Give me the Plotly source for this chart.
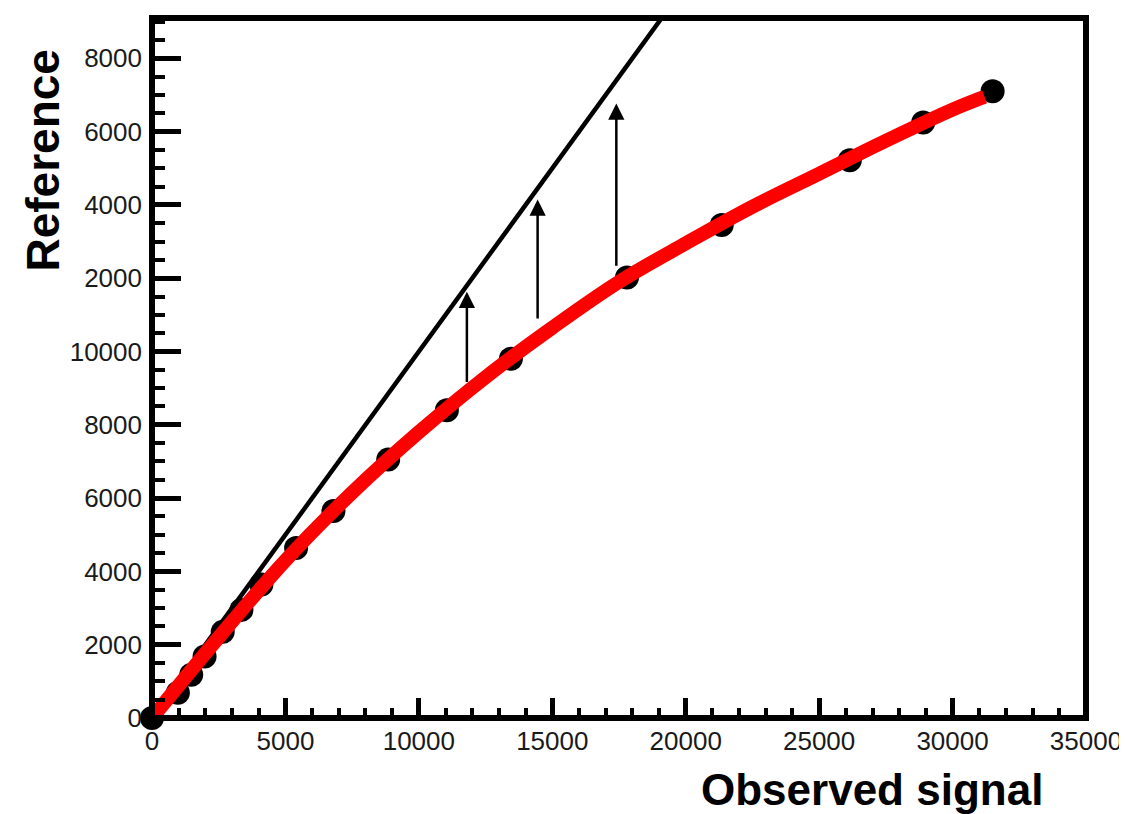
import plotly.graph_objects as go

# ---- data ----
obs_x = [0, 970, 1470, 1970, 2650, 3350, 4100, 5400, 6800, 8850, 11050, 13450,
         17800, 21350, 26150, 28900, 31500]
ref_y = [0, 690, 1180, 1680, 2350, 2950, 3640, 4640, 5650, 7050, 8400, 9800,
         12020, 13450, 15220, 16250, 17100]

fit_x = [0, 2500, 5000, 7500, 10000, 12500, 15000, 17500, 20000, 22500, 25000,
         27500, 30000, 31200]
fit_y = [0, 2200, 4300, 6150, 7800, 9300, 10650, 11900, 12950, 13950, 14850,
         15750, 16600, 16950]

ident_x = [0, 20000]
ident_y = [0, 20000]

arrow_x = [11800, 14450, 17400]
arrow_base = [9130, 10860, 12300]
arrow_tip = [11630, 14150, 16770]

x_tickvals = [0, 5000, 10000, 15000, 20000, 25000, 30000, 35000]
x_ticktext = ["0", "5000", "10000", "15000", "20000", "25000", "30000", "35000"]
y_tickvals = [0, 2000, 4000, 6000, 8000, 10000, 12000, 14000, 16000, 18000]
y_ticktext = ["0", "2000", "4000", "6000", "8000", "10000", "2000", "4000", "6000", "8000"]

x_title = "Observed signal"
y_title = "Reference"

FONT = "Liberation Sans, Arial, Helvetica, sans-serif"

fig = go.Figure()

fig.add_trace(go.Scatter(x=ident_x, y=ident_y, mode="lines",
                         line=dict(color="black", width=4.5), showlegend=False,
                         hoverinfo="skip"))
fig.add_trace(go.Scatter(x=obs_x, y=ref_y, mode="markers",
                         marker=dict(color="black", size=24), cliponaxis=False,
                         showlegend=False))
fig.add_trace(go.Scatter(x=fit_x, y=fit_y, mode="lines", line_shape="spline",
                         line=dict(color="#ff0000", width=14), showlegend=False))

annotations = []
for ax_, y0, y1 in zip(arrow_x, arrow_base, arrow_tip):
    annotations.append(dict(x=ax_, y=y1, ax=ax_, ay=y0, xref="x", yref="y",
                            axref="x", ayref="y", showarrow=True, arrowhead=2,
                            arrowsize=1.3, arrowwidth=2.5, arrowcolor="black",
                            text=""))

annotations.append(dict(text=x_title, xref="paper", yref="paper", x=0.771, y=-0.102,
                        xanchor="center", yanchor="middle", showarrow=False,
                        font=dict(family=FONT, size=44, color="black", weight="bold")))
annotations.append(dict(text=y_title, xref="paper", yref="paper", x=-0.117, y=0.796,
                        xanchor="center", yanchor="middle", showarrow=False, textangle=-90,
                        font=dict(family=FONT, size=46, color="black", weight="bold")))

fig.update_layout(
    width=1127, height=814,
    margin=dict(l=144, r=49, t=10, b=104, autoexpand=False),
    paper_bgcolor="white", plot_bgcolor="white",
    annotations=annotations,
    shapes=[dict(type="rect", xref="paper", yref="paper", x0=0, y0=0, x1=1, y1=1,
                 line=dict(color="black", width=6), layer="above")],
)

fig.update_xaxes(range=[0, 35000], showgrid=False, zeroline=False, showline=False,
                 automargin=False,
                 ticks="inside", ticklen=20, tickwidth=5, tickcolor="black",
                 tickvals=x_tickvals, ticktext=x_ticktext, ticklabelstandoff=5,
                 tickfont=dict(family=FONT, size=26, color="#1a1a1a"),
                 minor=dict(ticks="inside", ticklen=10, tickwidth=4, dtick=1000,
                            tickcolor="black", showgrid=False))
fig.update_yaxes(range=[0, 19100], showgrid=False, zeroline=False, showline=False,
                 automargin=False,
                 ticks="inside", ticklen=29, tickwidth=5, tickcolor="black",
                 tickvals=y_tickvals, ticktext=y_ticktext, ticklabelstandoff=9,
                 tickfont=dict(family=FONT, size=26, color="#1a1a1a"),
                 minor=dict(ticks="inside", ticklen=13, tickwidth=4, dtick=500,
                            tickcolor="black", showgrid=False))

fig.write_html("out.html")
